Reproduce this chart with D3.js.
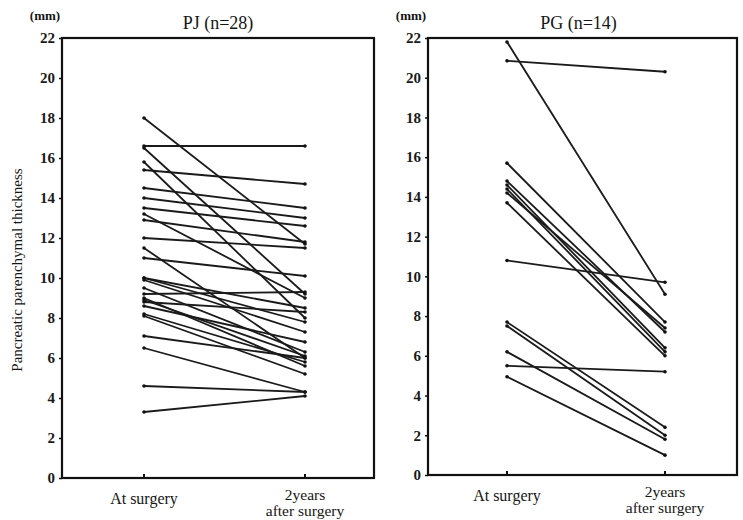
<!DOCTYPE html>
<html>
<head>
<meta charset="utf-8">
<script src="https://cdn.jsdelivr.net/npm/d3@7"></script>
<style>
  body { margin: 0; background: #fff; }
</style>
</head>
<body>
<svg id="chart" width="743" height="520"></svg>
<script>
// x categories and y ticks
var timepoints = ["At surgery", "2years"];
var yTicks = [0, 2, 4, 6, 8, 10, 12, 14, 16, 18, 20, 22];

// PJ group (n=28): thickness at surgery and 2 years after
var pjBefore = [18.0, 16.6, 16.5, 15.8, 15.4, 14.5, 14.0, 13.5, 13.2, 12.9, 12.0, 11.5, 11.0, 10.0,
                10.0, 9.9, 9.5, 9.2, 9.0, 8.9, 8.8, 8.6, 8.2, 8.1, 7.1, 6.5, 4.6, 3.3];
var pjAfter  = [11.7, 16.6, 9.2, 8.0, 14.7, 13.5, 13.0, 12.6, 9.0, 11.8, 11.5, 6.0, 10.1, 8.5,
                7.8, 7.3, 6.3, 9.3, 5.6, 6.1, 8.3, 6.8, 5.8, 5.2, 6.0, 4.3, 4.3, 4.1];

// PG group (n=14)
var pgBefore = [21.8, 20.85, 15.7, 14.8, 14.6, 14.4, 14.2, 13.7, 10.8, 7.7, 7.5, 6.2, 5.5, 4.95];
var pgAfter  = [9.1, 20.3, 7.7, 7.2, 6.4, 6.2, 7.4, 6.0, 9.7, 2.4, 2.0, 1.8, 5.2, 1.0];

var svg = d3.select("#chart");
var serif = "'Liberation Serif', 'Times New Roman', Times";

function label(g, x, y, size, txt, bold) {
  return g.append("text").attr("x", x).attr("y", y)
    .attr("text-anchor", "middle")
    .style("font-family", serif).style("font-size", size + "px")
    .style("font-weight", bold ? "bold" : "normal")
    .attr("fill", "#151515").text(txt);
}

// draw one panel
function panel(opts) {
  var x = d3.scalePoint().domain(timepoints).range([opts.x0, opts.x1]);
  var y = d3.scaleLinear().domain([0, 22]).range([opts.bottom, opts.top]);

  var g = svg.append("g");

  // frame
  g.append("rect")
    .attr("x", opts.left).attr("y", opts.top)
    .attr("width", opts.right - opts.left).attr("height", opts.bottom - opts.top)
    .attr("fill", "none").attr("stroke", "#111").attr("stroke-width", 2.2);

  // y axis
  var yAxis = d3.axisLeft(y).tickValues(yTicks).tickSize(3).tickPadding(4);
  var ya = g.append("g").attr("transform", "translate(" + opts.left + ",0)").call(yAxis);
  ya.select(".domain").remove();
  ya.selectAll("line").attr("stroke", "#111").attr("stroke-width", 1.5);
  ya.selectAll("text")
    .style("font-family", serif).style("font-size", "15px").style("font-weight", "bold")
    .attr("fill", "#1a1a1a");

  // x ticks
  g.selectAll(".xt").data(timepoints).enter().append("line")
    .attr("x1", function(d) { return x(d); }).attr("x2", function(d) { return x(d); })
    .attr("y1", opts.bottom).attr("y2", opts.bottom - 4)
    .attr("stroke", "#111").attr("stroke-width", 2);

  label(g, x(timepoints[0]), opts.bottom + 26, 16, "At surgery");
  label(g, x(timepoints[1]), opts.bottom + 22, 15.5, "2years");
  label(g, x(timepoints[1]), opts.bottom + 38, 15.5, "after surgery");

  // title and unit
  label(g, (opts.left + opts.right) / 2 + opts.dt, 29, 18, opts.title);
  label(g, opts.left - 17, 20, 13, "(mm)", true);

  // lines
  var pairs = opts.before.map(function(v, i) { return [v, opts.after[i]]; });
  g.selectAll(".pair").data(pairs).enter().append("line")
    .attr("x1", x(timepoints[0])).attr("x2", x(timepoints[1]))
    .attr("y1", function(d) { return y(d[0]); })
    .attr("y2", function(d) { return y(d[1]); })
    .attr("stroke", "#1a1a1a").attr("stroke-width", 1.8);

  var pts = [];
  pairs.forEach(function(d) { pts.push([timepoints[0], d[0]]); pts.push([timepoints[1], d[1]]); });
  g.selectAll(".pt").data(pts).enter().append("circle")
    .attr("cx", function(d) { return x(d[0]); })
    .attr("cy", function(d) { return y(d[1]); })
    .attr("r", 1.8).attr("fill", "#111");
}

panel({ left: 62, right: 374, top: 38, bottom: 478, x0: 144, x1: 305, dt: 0,
        title: "PJ (n=28)", before: pjBefore, after: pjAfter });
panel({ left: 428, right: 737, top: 38, bottom: 475, x0: 507, x1: 665, dt: -4,
        title: "PG (n=14)", before: pgBefore, after: pgAfter });

// shared y label
svg.append("text")
  .attr("transform", "translate(22,270) rotate(-90)")
  .attr("text-anchor", "middle")
  .style("font-family", serif).style("font-size", "15px").attr("fill", "#151515")
  .text("Pancreatic parenchymal thickness");
</script>
</body>
</html>
